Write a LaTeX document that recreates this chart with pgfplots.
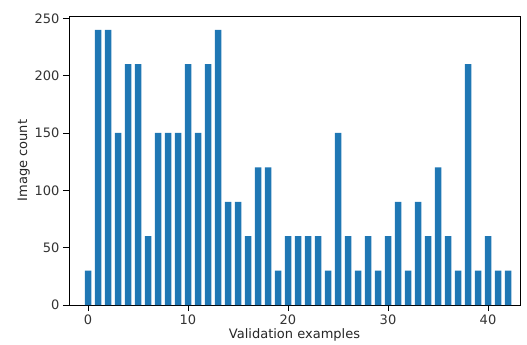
\documentclass[border=0pt]{standalone}
\usepackage{pgfplots}
\pgfplotsset{compat=1.18}
\usepackage{fontspec}
\setmainfont{DejaVu Sans}
\definecolor{mplblue}{HTML}{1F77B4}
\begin{document}
\begin{tikzpicture}
\useasboundingbox (-69pt,-40pt) rectangle (458pt,305pt);
\begin{axis}[
  scale only axis,
  width=451pt, height=289pt,
  xmin=-1.9, xmax=43.2,
  ymin=0, ymax=252,
  xtick={0,10,20,30,40},
  ytick={0,50,100,150,200,250},
  tick align=outside,
  major tick length=6pt,
  xtick pos=bottom, ytick pos=left,
  axis line style={black, line width=0.9pt},
  tick style={black, line width=0.9pt},
  font=\fontsize{13pt}{15pt}\selectfont,
  ticklabel style={font=\fontsize{13pt}{15pt}\selectfont, text=black!80},
  /pgf/number format/assume math mode=true,
  xlabel={Validation examples},
  ylabel={Image count},
  xlabel style={yshift=3pt},
  ylabel style={yshift=-2pt},
  label style={text=black!85},
]
\addplot[ybar, bar width=0.65, fill=mplblue, draw=none] coordinates {
(0,30) (1,240) (2,240) (3,150) (4,210) (5,210) (6,60) (7,150) (8,150) (9,150)
(10,210) (11,150) (12,210) (13,240) (14,90) (15,90) (16,60) (17,120) (18,120) (19,30)
(20,60) (21,60) (22,60) (23,60) (24,30) (25,150) (26,60) (27,30) (28,60) (29,30)
(30,60) (31,90) (32,30) (33,90) (34,60) (35,120) (36,60) (37,30) (38,210) (39,30)
(40,60) (41,30) (42,30)
};
\end{axis}
\end{tikzpicture}
\end{document}
